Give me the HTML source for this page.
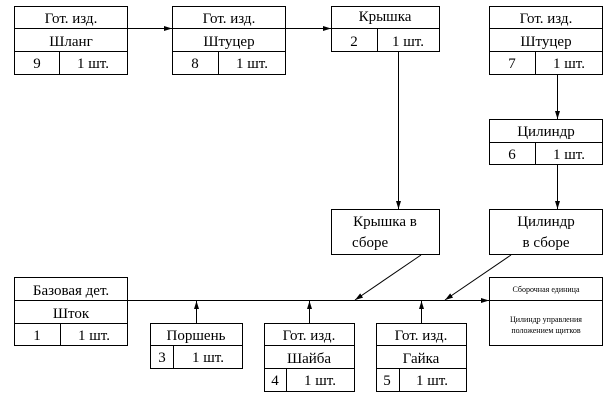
<!DOCTYPE html>
<html><head><meta charset="utf-8"><style>
html,body{margin:0;padding:0;background:#fff;}
svg{display:block;}
text{font-family:"Liberation Serif","DejaVu Serif",serif;font-size:15px;fill:#000;}
</style></head><body>
<svg width="605" height="409" viewBox="0 0 605 409" xmlns="http://www.w3.org/2000/svg">
<defs><marker id="a" markerWidth="8" markerHeight="6" refX="8" refY="3" orient="auto" markerUnits="userSpaceOnUse"><path d="M0,0.5 L8,3 L0,5.5 z" fill="#000"/></marker></defs>
<g fill="none" stroke="#000" stroke-width="1">
<!-- A -->
<rect x="14.5" y="6.5" width="113" height="68"/><line x1="14" y1="28.5" x2="127" y2="28.5"/><line x1="14" y1="51.5" x2="127" y2="51.5"/><line x1="59.5" y1="51" x2="59.5" y2="74"/>
<!-- B -->
<rect x="172.5" y="6.5" width="113" height="68"/><line x1="172" y1="28.5" x2="285" y2="28.5"/><line x1="172" y1="51.5" x2="285" y2="51.5"/><line x1="218.5" y1="51" x2="218.5" y2="74"/>
<!-- C -->
<rect x="331.5" y="6.5" width="108" height="45"/><line x1="331" y1="28.5" x2="439" y2="28.5"/><line x1="377.5" y1="28" x2="377.5" y2="51"/>
<!-- D -->
<rect x="489.5" y="6.5" width="113" height="68"/><line x1="489" y1="28.5" x2="602" y2="28.5"/><line x1="489" y1="51.5" x2="602" y2="51.5"/><line x1="535.5" y1="51" x2="535.5" y2="74"/>
<!-- Cyl -->
<rect x="489.5" y="119.5" width="113" height="45"/><line x1="489" y1="142.5" x2="602" y2="142.5"/><line x1="535.5" y1="142" x2="535.5" y2="164"/>
<!-- assemblies -->
<rect x="331.5" y="209.5" width="108" height="45"/>
<rect x="489.5" y="209.5" width="113" height="45"/>
<!-- base -->
<rect x="14.5" y="277.5" width="113" height="68"/><line x1="14" y1="300.5" x2="127" y2="300.5"/><line x1="14" y1="323.5" x2="127" y2="323.5"/><line x1="60.5" y1="323" x2="60.5" y2="345"/>
<!-- result -->
<rect x="489.5" y="277.5" width="113" height="68"/><line x1="489" y1="300.5" x2="602" y2="300.5"/>
<!-- bottom -->
<rect x="150.5" y="323.5" width="92" height="45"/><line x1="150" y1="345.5" x2="242" y2="345.5"/><line x1="173.5" y1="345" x2="173.5" y2="368"/>
<rect x="264.5" y="323.5" width="90" height="68"/><line x1="264" y1="345.5" x2="354" y2="345.5"/><line x1="264" y1="368.5" x2="354" y2="368.5"/><line x1="286.5" y1="368" x2="286.5" y2="391"/>
<rect x="376.5" y="323.5" width="90" height="68"/><line x1="376" y1="345.5" x2="466" y2="345.5"/><line x1="376" y1="368.5" x2="466" y2="368.5"/><line x1="399.5" y1="368" x2="399.5" y2="391"/>
<!-- connectors -->
<line x1="127" y1="28.5" x2="172" y2="28.5" marker-end="url(#a)"/>
<line x1="285" y1="28.5" x2="331" y2="28.5" marker-end="url(#a)"/>
<line x1="398.5" y1="51" x2="398.5" y2="209" marker-end="url(#a)"/>
<line x1="557.5" y1="74" x2="557.5" y2="119" marker-end="url(#a)"/>
<line x1="557.5" y1="164" x2="557.5" y2="209" marker-end="url(#a)"/>
<line x1="127" y1="300.5" x2="489" y2="300.5" marker-end="url(#a)"/>
<line x1="421" y1="255" x2="355" y2="300" marker-end="url(#a)"/>
<line x1="511" y1="255" x2="445" y2="300" marker-end="url(#a)"/>
<line x1="196.5" y1="323" x2="196.5" y2="301" marker-end="url(#a)"/>
<line x1="309.5" y1="323" x2="309.5" y2="301" marker-end="url(#a)"/>
<line x1="421.5" y1="323" x2="421.5" y2="301" marker-end="url(#a)"/>
</g>
<g text-anchor="middle">
<text x="71" y="23">Гот. изд.</text><text x="71" y="46">Шланг</text><text x="37" y="68">9</text><text x="93" y="68">1 шт.</text>
<text x="229" y="23">Гот. изд.</text><text x="229" y="46">Штуцер</text><text x="195" y="68">8</text><text x="252" y="68">1 шт.</text>
<text x="385" y="21">Крышка</text><text x="354" y="46">2</text><text x="408" y="46">1 шт.</text>
<text x="546" y="23">Гот. изд.</text><text x="546" y="46">Штуцер</text><text x="512" y="68">7</text><text x="569" y="68">1 шт.</text>
<text x="546" y="136">Цилиндр</text><text x="512" y="159">6</text><text x="569" y="159">1 шт.</text>
<text x="385" y="226">Крышка в</text><text x="375" y="247" text-anchor="start" x2="0"></text>
<text x="546" y="226">Цилиндр</text><text x="546" y="247">в сборе</text>
<text x="71" y="295">Базовая дет.</text><text x="71" y="318">Шток</text><text x="37" y="340">1</text><text x="94" y="340">1 шт.</text>
<text x="196" y="340">Поршень</text><text x="162" y="362">3</text><text x="208" y="362">1 шт.</text>
<text x="309" y="340">Гот. изд.</text><text x="309" y="363">Шайба</text><text x="275" y="385">4</text><text x="320" y="385">1 шт.</text>
<text x="421" y="340">Гот. изд.</text><text x="421" y="363">Гайка</text><text x="387" y="385">5</text><text x="432" y="385">1 шт.</text>
<text x="546" y="292" style="font-size:8px">Сборочная единица</text>
<text x="546" y="322" style="font-size:8px">Цилиндр управления</text>
<text x="546" y="333" style="font-size:8px">положением щитков</text>
</g>
<text x="352" y="247">сборе</text>
</svg>
</body></html>
